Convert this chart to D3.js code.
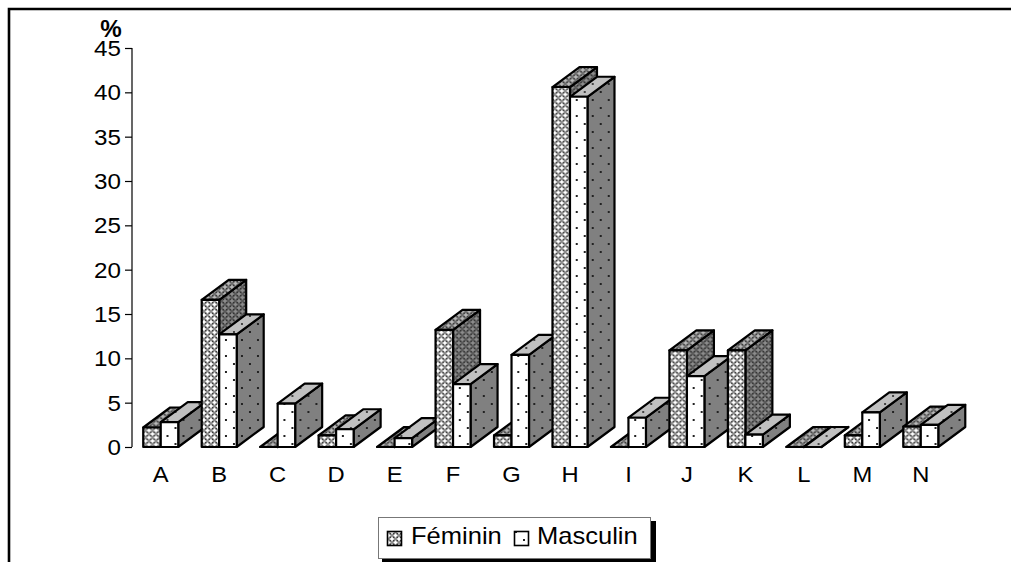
<!DOCTYPE html>
<html><head><meta charset="utf-8">
<script src="https://cdn.jsdelivr.net/npm/d3@7/dist/d3.min.js"></script>
<style>html,body{margin:0;padding:0;background:#fff;overflow:hidden}svg{display:block}text{font-family:"Liberation Sans",Arial,sans-serif;fill:#000}</style>
</head><body><svg id="c" width="1011" height="562"></svg>
<script>
const categories=["A","B","C","D","E","F","G","H","I","J","K","L","M","N"];
const feminin=[2.2,16.6,0,1.3,0,13.2,1.3,40.6,0,10.9,10.9,0,1.3,2.3];
const masculin=[2.8,12.7,4.9,2.0,1.0,7.1,10.4,39.5,3.3,8.0,1.4,0,3.9,2.5];
const seriesNames=["Féminin","Masculin"];
const yTicks=[0,5,10,15,20,25,30,35,40,45];
const yLabel="%";

const svg=d3.select("#c");
const defs=svg.append("defs");
function cross(id,bg,line,blob){
  const p=defs.append("pattern").attr("id",id).attr("width",7).attr("height",7).attr("patternUnits","userSpaceOnUse");
  p.append("rect").attr("width",7).attr("height",7).attr("fill",bg);
  p.append("path").attr("d","M-1,-1L8,8M-1,8L8,-1").attr("stroke",line).attr("stroke-width",1.2);
  p.append("path").attr("d","M3.5,1.3L5.7,3.5L3.5,5.7L1.3,3.5ZM0,-2.2L2.2,0L0,2.2L-2.2,0ZM7,-2.2L9.2,0L7,2.2L4.8,0ZM0,4.8L2.2,7L0,9.2L-2.2,7ZM7,4.8L9.2,7L7,9.2L4.8,7Z").attr("fill",blob);
}
function dots(id,bg,dot){
  const p=defs.append("pattern").attr("id",id).attr("width",16).attr("height",16).attr("patternUnits","userSpaceOnUse");
  p.append("rect").attr("width",16).attr("height",16).attr("fill",bg);
  p.append("rect").attr("x",3).attr("y",3).attr("width",2).attr("height",2).attr("fill",dot);
  p.append("rect").attr("x",11).attr("y",11).attr("width",2).attr("height",2).attr("fill",dot);
}
cross("ff","#8c8c8c","#333","#fff");
cross("fs","#5a5a5a","#2e2e2e","#8c8c8c");
cross("ft","#6e6e6e","#333","#b8b8b8");
dots("mf","#fff","#222");
dots("ms","#808080","#222");
dots("mt","#c0c0c0","#444");

// outer frame
svg.append("path").attr("d","M9,562V9H1011").attr("fill","none").attr("stroke","#000").attr("stroke-width",2.6);

const y=d3.scaleLinear().domain([0,45]).range([447,48]);
const x=d3.scaleBand().domain(categories).range([131.5,950]);
const inner=d3.scaleBand().domain(seriesNames).range([0,x.bandwidth()]).paddingOuter(0.67).paddingInner(0);
const DX=27,DY=20;

function stretched(sel,sx){
  sel.attr("transform",function(){
    const ax=+this.getAttribute("data-x"),ay=+this.getAttribute("data-y");
    return `translate(${ax},${ay}) scale(${sx},1)`;
  });
}

// y axis
const ax=svg.append("g").attr("transform","translate(132,0)")
  .call(d3.axisLeft(y).tickValues(yTicks).tickSize(7).tickPadding(4).tickFormat(d3.format("d")));
ax.selectAll("line,path").attr("stroke","#000").attr("stroke-width",1.2);
ax.select(".domain").attr("d",`M0,${y(45)}V${y(0)}`);
ax.selectAll("text").remove();
svg.selectAll(".yl").data(yTicks).enter().append("text").attr("class","yl")
  .attr("text-anchor","end").attr("font-size",22).attr("dy","0.36em")
  .attr("data-x",121).attr("data-y",d=>y(d)).text(d=>d).call(stretched,1.1);

svg.append("text").attr("text-anchor","middle").attr("font-size",23).attr("font-weight","bold")
  .attr("data-x",111).attr("data-y",37).text(yLabel).call(stretched,1.05);

// bars
const rows=categories.map((c,i)=>({c,f:feminin[i],m:masculin[i]}));
const barG=svg.selectAll(".cat").data(rows).enter().append("g").attr("class","cat")
  .attr("transform",d=>`translate(${x(d.c)},0)`);
const stroke={stroke:"#000","stroke-width":2.2,"stroke-linejoin":"round"};
function bar(g,val,name,pre){
  const x0=inner(name),w=inner.bandwidth(),x1=x0+w,yb=y(0),yt=y(val);
  const polys=[
    [`url(#${pre}s)`,[[x1,yb],[x1+DX,yb-DY],[x1+DX,yt-DY],[x1,yt]]],
    [`url(#${pre}t)`,[[x0,yt],[x0+DX,yt-DY],[x1+DX,yt-DY],[x1,yt]]],
    [`url(#${pre}f)`,[[x0,yb],[x1,yb],[x1,yt],[x0,yt]]]
  ];
  polys.forEach(([fill,pts])=>{
    const pa=g.append("polygon").attr("points",pts.map(p=>p.join(",")).join(" ")).attr("fill",fill);
    Object.entries(stroke).forEach(([k,v])=>pa.attr(k,v));
  });
}
barG.each(function(d){
  const g=d3.select(this);
  bar(g,d.f,seriesNames[0],"f");
  bar(g,d.m,seriesNames[1],"m");
});

// x labels
svg.selectAll(".xl").data(categories).enter().append("text").attr("class","xl")
  .attr("text-anchor","middle").attr("font-size",22)
  .attr("data-x",d=>x(d)+x.bandwidth()/2).attr("data-y",482).text(d=>d).call(stretched,1.08);

// legend
const lg=svg.append("g");
lg.append("rect").attr("x",382).attr("y",521).attr("width",274).attr("height",41).attr("fill","#000");
lg.append("rect").attr("x",378.5).attr("y",517.5).attr("width",272).attr("height",41).attr("fill","#fff").attr("stroke","#777").attr("stroke-width",1);
const lx=[[387,411,"ff"],[514,537,"mf"]];
seriesNames.forEach((n,i)=>{
  lg.append("rect").attr("x",lx[i][0]+.5).attr("y",531.5).attr("width",14).attr("height",14)
    .attr("fill",`url(#${lx[i][2]})`).attr("stroke","#000").attr("stroke-width",1.6);
  lg.append("text").attr("font-size",23).attr("data-x",lx[i][1]).attr("data-y",544).text(n).call(stretched,1.11);
});
</script></body></html>
